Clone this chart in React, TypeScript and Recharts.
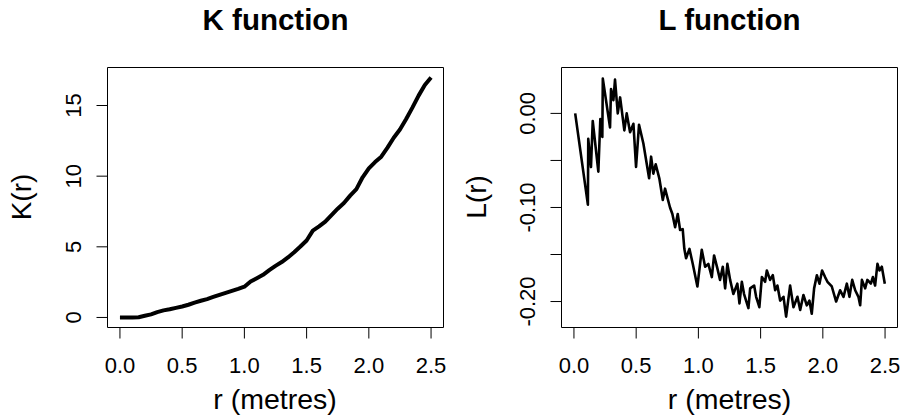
import React from "react";
import { LineChart, Line, XAxis, YAxis, ReferenceArea } from "recharts";

// K function
const kR = [
  0, 0.05, 0.1, 0.15, 0.2, 0.25, 0.3, 0.35, 0.4, 0.45, 0.5, 0.55, 0.6, 0.65, 0.7, 0.75, 0.8,
  0.85, 0.9, 0.95, 1.0, 1.05, 1.1, 1.15, 1.2, 1.25, 1.3, 1.35, 1.4, 1.45, 1.5, 1.55, 1.6, 1.65,
  1.7, 1.75, 1.8, 1.85, 1.9, 1.95, 2.0, 2.05, 2.1, 2.15, 2.2, 2.25, 2.3, 2.35, 2.4, 2.45, 2.5,
];
const kVal = [
  0, 0, 0, 0.02, 0.12, 0.22, 0.38, 0.5, 0.58, 0.68, 0.78, 0.9, 1.05, 1.18, 1.3, 1.45, 1.6,
  1.74, 1.88, 2.02, 2.18, 2.55, 2.78, 3.02, 3.35, 3.65, 3.92, 4.25, 4.62, 5.02, 5.45, 6.15, 6.45,
  6.78, 7.25, 7.7, 8.1, 8.62, 9.08, 9.92, 10.55, 11.0, 11.38, 12.02, 12.72, 13.3, 14.05, 14.85,
  15.7, 16.45, 16.98,
];

// L function
const lR = [
  0.01, 0.112, 0.115, 0.137, 0.151, 0.196, 0.212, 0.228, 0.232, 0.29, 0.298, 0.317, 0.33, 0.352,
  0.371, 0.405, 0.424, 0.451, 0.478, 0.499, 0.523, 0.558, 0.604, 0.62, 0.638, 0.657, 0.686, 0.714,
  0.732, 0.772, 0.791, 0.813, 0.834, 0.853, 0.874, 0.887, 0.901, 0.928, 0.955, 0.992, 1.027, 1.054,
  1.08, 1.108, 1.126, 1.153, 1.174, 1.196, 1.215, 1.233, 1.255, 1.281, 1.313, 1.33, 1.349, 1.367,
  1.402, 1.416, 1.448, 1.464, 1.49, 1.51, 1.536, 1.55, 1.576, 1.598, 1.617, 1.635, 1.657, 1.684,
  1.705, 1.737, 1.764, 1.796, 1.818, 1.844, 1.871, 1.892, 1.911, 1.93, 1.952, 1.973, 1.994, 2.018,
  2.037, 2.072, 2.107, 2.139, 2.166, 2.193, 2.214, 2.236, 2.26, 2.286, 2.3, 2.314, 2.34, 2.358,
  2.386, 2.402, 2.42, 2.439, 2.455, 2.474, 2.498,
];
const lVal = [
  0.0, -0.097, -0.027, -0.057, -0.008, -0.062, -0.006, -0.025, 0.037, -0.015, 0.026, 0.014, 0.036,
  0.0, 0.017, -0.018, 0.0, -0.02, -0.011, -0.057, -0.012, -0.032, -0.069, -0.046, -0.064, -0.054,
  -0.069, -0.092, -0.08, -0.1, -0.107, -0.121, -0.107, -0.124, -0.123, -0.144, -0.154, -0.144,
  -0.16, -0.184, -0.145, -0.163, -0.16, -0.174, -0.151, -0.165, -0.177, -0.163, -0.186, -0.16,
  -0.177, -0.192, -0.181, -0.202, -0.179, -0.192, -0.207, -0.186, -0.183, -0.195, -0.206, -0.174,
  -0.179, -0.167, -0.177, -0.172, -0.188, -0.183, -0.199, -0.195, -0.216, -0.183, -0.206, -0.195,
  -0.209, -0.193, -0.204, -0.199, -0.213, -0.186, -0.172, -0.181, -0.167, -0.174, -0.179, -0.184,
  -0.2, -0.188, -0.195, -0.181, -0.195, -0.177, -0.188, -0.195, -0.204, -0.177, -0.186, -0.177,
  -0.181, -0.174, -0.183, -0.16, -0.167, -0.163, -0.181,
];

const xTicks = [0, 0.5, 1.0, 1.5, 2.0, 2.5];
const kTicks = [0, 5, 10, 15];
const lTicks = [0, -0.05, -0.1, -0.15, -0.2];
const lLabelled = [0, -0.1, -0.2];

const X_DOMAIN = [-0.1, 2.6];
const K_DOMAIN = [-0.71, 17.69];
const L_DOMAIN = [-0.2276, 0.0488];

const FONT = "'Liberation Sans', Arial, Helvetica, sans-serif";

const kData = kR.map((r, i) => ({ r, v: kVal[i] }));
const lData = lR.map((r, i) => ({ r, v: lVal[i] }));

const XTick = (props: any) => {
  const { x, y, payload } = props;
  return (
    <text x={x} y={y + 32} textAnchor="middle" fontSize={22} fontFamily={FONT} fill="#000">
      {payload.value.toFixed(1)}
    </text>
  );
};

const makeYTick = (fmt: (v: number) => string | null) => (props: any) => {
  const { x, y, payload } = props;
  const label = fmt(payload.value);
  if (label === null) return <g />;
  return (
    <text
      transform={`translate(${x - 14},${y}) rotate(-90)`}
      textAnchor="middle"
      fontSize={22}
      fontFamily={FONT}
      fill="#000"
    >
      {label}
    </text>
  );
};

const kTick = makeYTick((v) => String(v));
const lTick = makeYTick((v) =>
  lLabelled.some((t) => Math.abs(t - v) < 1e-9) ? v.toFixed(2) : null
);

const margin = { top: 67.5, right: 10.5, bottom: 32.5, left: 7.5 };

function Panel({ data, domain, ticks, tick, width }: any) {
  return (
    <LineChart width={454} height={420} data={data} margin={margin}>
      <XAxis
        type="number"
        dataKey="r"
        domain={X_DOMAIN}
        ticks={xTicks}
        allowDataOverflow
        interval={0}
        axisLine={false}
        tickSize={11}
        tickLine={{ stroke: "#000" }}
        tick={<XTick />}
        height={60}
      />
      <YAxis
        type="number"
        domain={domain}
        ticks={ticks}
        allowDataOverflow
        interval={0}
        axisLine={false}
        tickSize={11}
        tickLine={{ stroke: "#000" }}
        tick={tick}
        width={100}
      />
      <ReferenceArea
        x1={X_DOMAIN[0]}
        x2={X_DOMAIN[1]}
        y1={domain[0]}
        y2={domain[1]}
        fill="none"
        stroke="#000"
        strokeWidth={1}
        ifOverflow="visible"
      />
      <Line
        type="linear"
        dataKey="v"
        stroke="#000"
        strokeWidth={width}
        strokeLinejoin="round"
        dot={false}
        isAnimationActive={false}
      />
    </LineChart>
  );
}

export default function App() {
  return (
    <div style={{ position: "absolute", left: 0, top: 0, width: 908, height: 420, background: "#fff" }}>
      <div style={{ display: "flex" }}>
        <Panel data={kData} domain={K_DOMAIN} ticks={kTicks} tick={kTick} width={4} />
        <Panel data={lData} domain={L_DOMAIN} ticks={lTicks} tick={lTick} width={2.6} />
      </div>
      <svg
        width={908}
        height={420}
        style={{ position: "absolute", left: 0, top: 0, pointerEvents: "none" }}
        fontFamily={FONT}
      >
        <text x={275.5} y={30} textAnchor="middle" fontSize={29.5} fontWeight="bold">K function</text>
        <text x={729.5} y={30} textAnchor="middle" fontSize={29.5} fontWeight="bold">L function</text>
        <text x={275} y={409} textAnchor="middle" fontSize={28.5}>r (metres)</text>
        <text x={729.5} y={409} textAnchor="middle" fontSize={28.5}>r (metres)</text>
        <text transform="translate(31,197) rotate(-90)" textAnchor="middle" fontSize={28}>K(r)</text>
        <text transform="translate(486,197) rotate(-90)" textAnchor="middle" fontSize={28}>L(r)</text>
      </svg>
    </div>
  );
}
